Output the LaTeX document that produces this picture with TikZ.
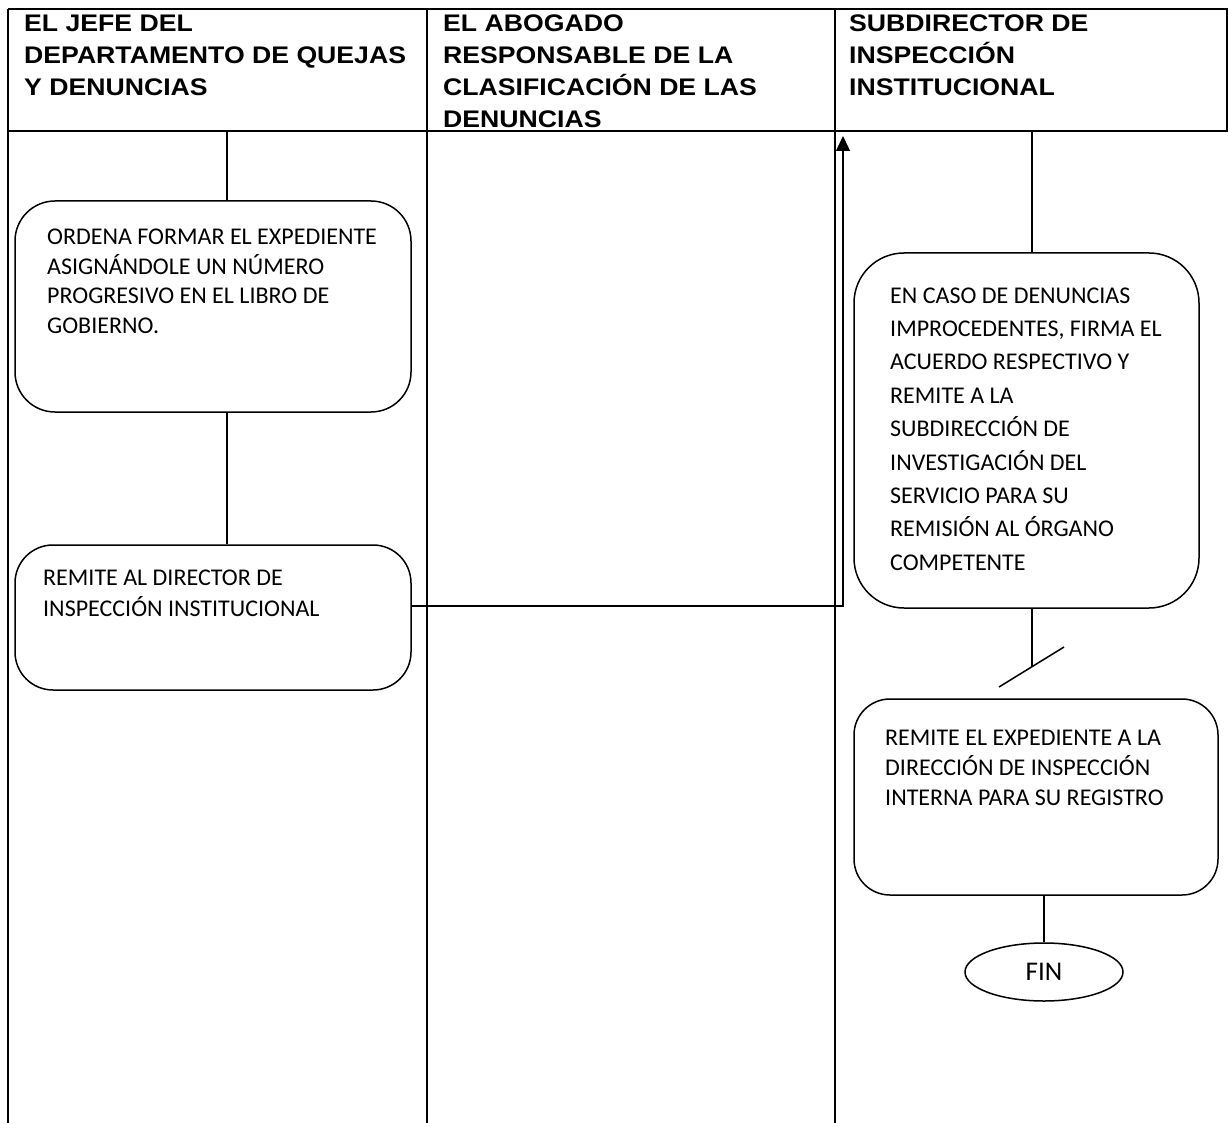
\documentclass[tikz,border=0pt]{standalone}
\usepackage{fontspec}
\setmainfont{Carlito}
\newfontfamily\hdrfont[FakeStretch=1.11]{Liberation Sans}
\usetikzlibrary{shapes.geometric,arrows.meta}
\newcommand{\stk}[2]{\vtop{\baselineskip=#1\relax\lineskip=0pt\lineskiplimit=-100pt #2}}
\tikzset{
  grid/.style={line width=2pt},
  procbox/.style={draw, line width=1.5pt, inner sep=0pt},
  conn/.style={line width=1.5pt},
  txt/.style={anchor=base west, inner sep=0pt, font=\fontsize{24}{29}\selectfont},
  hdr/.style={anchor=base west, inner sep=0pt, font=\hdrfont\bfseries\fontsize{24}{32}\selectfont},
  arr/.style={line width=1.3pt, -{Triangle[width=14pt,length=15pt]}}
}
\begin{document}
\begin{tikzpicture}[x=1pt,y=-1pt]
\useasboundingbox (0,0) rectangle (1228,1123);
% table
\draw[grid] (8,9) -- (1228,9);
\draw[grid] (8,131) -- (1228,131);
\draw[grid] (8,9) -- (8,1123);
\draw[grid] (427,9) -- (427,1123);
\draw[grid] (835,9) -- (835,1123);
\draw[grid] (1227,9) -- (1227,131);
% headers
\node[hdr] (hA) at (24,32) {\stk{31.8pt}{\hbox{EL JEFE DEL}\hbox{DEPARTAMENTO DE QUEJAS}\hbox{Y DENUNCIAS}}};
\node[hdr] (hB) at (443,32) {\stk{31.8pt}{\hbox{EL ABOGADO}\hbox{RESPONSABLE DE LA}\hbox{CLASIFICACIÓN DE LAS}\hbox{DENUNCIAS}}};
\node[hdr] (hC) at (849,32) {\stk{31.8pt}{\hbox{SUBDIRECTOR DE}\hbox{INSPECCIÓN}\hbox{INSTITUCIONAL}}};
% boxes
\node[procbox, rounded corners=40pt, minimum width=396pt, minimum height=211pt] (b1) at (213,306.5) {};
\node[procbox, rounded corners=38pt, minimum width=396pt, minimum height=145pt] (b2) at (213,617.5) {};
\node[procbox, rounded corners=50pt, minimum width=345pt, minimum height=355pt] (b3) at (1026.5,430.5) {};
\node[procbox, rounded corners=36pt, minimum width=364pt, minimum height=196pt] (b4) at (1036,797) {};
\node[draw, ellipse, line width=1.5pt, minimum width=158pt, minimum height=58pt, inner sep=0pt, font=\fontsize{27}{32}\selectfont] (fin) at (1044,972) {FIN};
% box texts
\node[txt] (t1) at (47,245) {\stk{29.4pt}{\hbox{ORDENA FORMAR EL EXPEDIENTE}\hbox{ASIGNÁNDOLE UN NÚMERO}\hbox{PROGRESIVO EN EL LIBRO DE}\hbox{GOBIERNO.}}};
\node[txt] (t2) at (43,585) {\stk{31pt}{\hbox{REMITE AL DIRECTOR DE}\hbox{INSPECCIÓN INSTITUCIONAL}}};
\node[txt] (t3) at (890,303) {\stk{33.4pt}{\hbox{EN CASO DE DENUNCIAS}\hbox{IMPROCEDENTES, FIRMA EL}\hbox{ACUERDO RESPECTIVO Y}\hbox{REMITE A LA}\hbox{SUBDIRECCIÓN DE}\hbox{INVESTIGACIÓN DEL}\hbox{SERVICIO PARA SU}\hbox{REMISIÓN AL ÓRGANO}\hbox{COMPETENTE}}};
\node[txt] (t4) at (885,745) {\stk{30pt}{\hbox{REMITE EL EXPEDIENTE A LA}\hbox{DIRECCIÓN DE INSPECCIÓN}\hbox{INTERNA PARA SU REGISTRO}}};
% connectors
\coordinate (c1) at (227,131);
\coordinate (c3) at (1032,131);
\coordinate (corner) at (843,606);
\coordinate (tip) at (843,136);
\coordinate (s) at (1032,667);
\coordinate (s1) at (999,687);
\coordinate (s2) at (1064,647);
\draw[conn] (c1) -- (b1.north -| c1);
\draw[conn] (b1.south -| c1) -- (b2.north -| c1);
\draw[arr] (b2.east |- corner) -- (corner) -- (tip);
\draw[conn] (c3) -- (b3.north -| c3);
\draw[conn] (b3.south -| s) -- (s);
\draw[conn] (s1) -- (s2);
\draw[conn] (b4.south -| fin) -- (fin.north);
\end{tikzpicture}
\end{document}
